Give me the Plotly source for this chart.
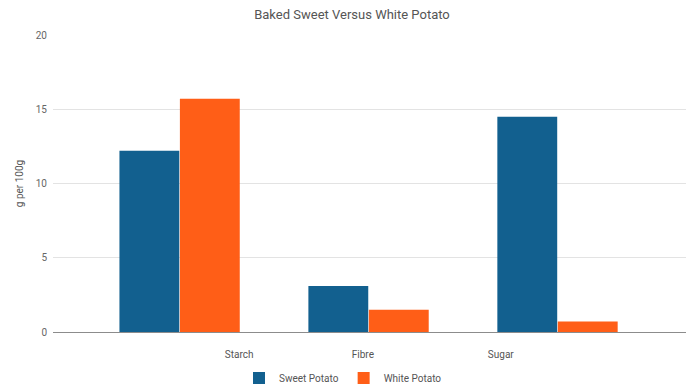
import plotly.graph_objects as go

categories = ["Starch", "Fibre", "Sugar"]
sweet_potato = [12.2, 3.1, 14.5]
white_potato = [15.7, 1.5, 0.7]
y_ticks = [0, 5, 10, 15, 20]

BLUE = "#12608F"
ORANGE = "#FF5E17"
FONT = "Roboto, Arial, sans-serif"

# page body has an 8px default margin; figure coordinates are offset by it
OFF = 8
W, H = 700, 391

fig = go.Figure()
fig.add_trace(go.Bar(x=categories, y=sweet_potato, name="Sweet Potato",
                     marker=dict(color=BLUE, line=dict(width=0))))
fig.add_trace(go.Bar(x=categories, y=white_potato, name="White Potato",
                     marker=dict(color=ORANGE, line=dict(width=0))))

# invisible helper trace to activate the label axis
fig.add_trace(go.Scatter(x=[0], y=[0], xaxis="x2", mode="markers",
                         marker=dict(opacity=0), showlegend=False, hoverinfo="skip"))

fig.update_layout(
    width=W, height=H,
    margin=dict(l=53 - OFF, r=W - (686 - OFF), t=35 - OFF, b=H - (332 - OFF),
                autoexpand=False),
    paper_bgcolor="white", plot_bgcolor="white",
    font=dict(family=FONT, color="#666666", size=10),
    title=dict(text="Baked Sweet Versus White Potato", xref="container",
               x=(352 - OFF) / W, xanchor="center",
               y=1 - (14 - OFF) / H, yanchor="middle",
               font=dict(family=FONT, size=13, color="#555555")),
    barmode="group", bargap=0.36, bargroupgap=0.01,
    showlegend=True,
    legend=dict(orientation="h", xref="container", x=(343 - OFF) / W,
                xanchor="center", yref="container",
                y=1 - (378 - OFF) / H, yanchor="middle",
                font=dict(family=FONT, size=10, color="#555555"),
                itemwidth=30, traceorder="normal"),
    xaxis=dict(range=[-0.67, 2.68], showticklabels=False, showgrid=False,
               showline=True, linecolor="#8c8c8c", linewidth=1, ticks="",
               zeroline=False, automargin=False),
    xaxis2=dict(overlaying="x", anchor="y", side="bottom", type="linear",
                range=[-0.67, 2.68], tickmode="array",
                tickvals=[0.315, 0.97, 1.70], ticktext=categories,
                showgrid=False, showline=False, zeroline=False, ticks="",
                ticklabelstandoff=15, automargin=False,
                tickfont=dict(family=FONT, size=10, color="#555555")),
    yaxis=dict(range=[0, 20], tickvals=y_ticks, showgrid=True,
               gridcolor="#e3e3e3", gridwidth=1, zeroline=False,
               showline=False, ticks="", ticklabelstandoff=5, automargin=False,
               tickfont=dict(family=FONT, size=10, color="#666666"),
               title=dict(text="g per 100g", standoff=10,
                          font=dict(family=FONT, size=10, color="#555555"))),
)

fig.write_html("out.html")
